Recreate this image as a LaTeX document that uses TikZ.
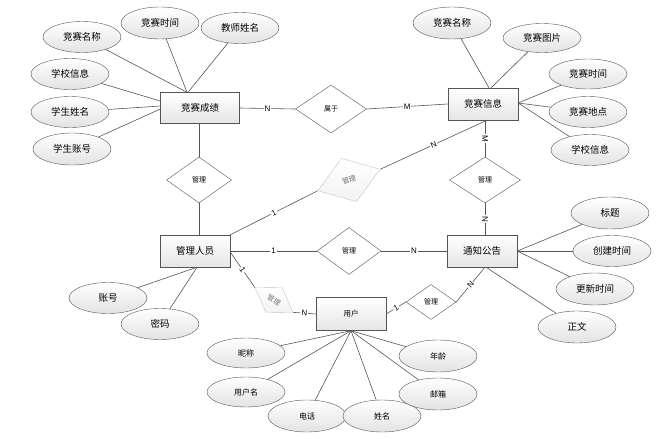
\documentclass[tikz,border=0pt]{standalone}
\usepackage{fontspec}
\newfontfamily\cjk{Noto Sans CJK SC}
\newfontfamily\lat{Liberation Sans}
\usepackage{tikz}
\usetikzlibrary{shapes.geometric,positioning}
\definecolor{edgegray}{HTML}{555555}

\tikzset{
  entity/.style={draw=edgegray,top color=white,bottom color=gray!20,minimum width=70pt,minimum height=32pt,inner sep=0pt,font=\cjk\fontsize{9.5}{10}\selectfont},
  attr/.style={ellipse,draw=edgegray,top color=white,bottom color=gray!22,minimum width=78pt,minimum height=31pt,inner sep=0pt,font=\cjk\fontsize{9.5}{10}\selectfont},
  uattr/.style={attr,font=\cjk\fontsize{8}{9}\selectfont},
  rel/.style={diamond,draw=edgegray,fill=white,inner sep=0pt,font=\cjk\fontsize{7}{8}\selectfont},
  faintrel/.style={diamond,draw=gray!45,top color=white,bottom color=gray!10,text=gray!90!black,inner sep=0pt,font=\cjk\fontsize{7}{8}\selectfont},
  card/.style={fill=white,inner sep=0.8pt,font=\lat\fontsize{8}{9}\selectfont},
  conn/.style={draw=edgegray,line width=0.6pt}
}

\begin{document}
\begin{tikzpicture}[x=1pt,y=-1pt]
\useasboundingbox (0,0) rectangle (670,439);
% entities
\node[entity,minimum width=79pt,minimum height=31pt] (cjcj) at (200,108) {竞赛成绩};
\node[entity] (jsxx) at (483,104) {竞赛信息};
\node[entity] (glry) at (195,251) {管理人员};
\node[entity] (tzgg) at (482,251) {通知公告};
\node[entity,minimum height=33pt,font=\cjk\fontsize{7.5}{8}\selectfont] (yh) at (351,314) {用户};
% relations
\node[rel,minimum width=71pt,minimum height=48pt] (sy) at (331,109) {属于};
\node[rel,minimum width=65pt,minimum height=46pt] (gl1) at (199,180) {管理};
\node[faintrel,minimum width=66pt,minimum height=46pt,rotate=19] (gl2) at (349,180) {管理};
\node[rel,minimum width=71pt,minimum height=46pt] (gl3) at (485,180) {管理};
\node[rel,minimum width=64pt,minimum height=47pt] (gl4) at (349,251) {管理};
\node[faintrel,minimum width=45pt,minimum height=30pt,rotate=-33] (gl5) at (274,300) {管理};
\node[rel,minimum width=50pt,minimum height=35pt] (gl6) at (431,302) {管理};
% attributes
\node[attr] (cjmc) at (82,37) {竞赛名称};
\node[attr,minimum height=32pt] (cjsj) at (160,23) {竞赛时间};
\node[attr] (jsxm) at (240,28) {教师姓名};
\node[attr] (cxxx) at (70,74) {学校信息};
\node[attr] (xsxm) at (70,112) {学生姓名};
\node[attr,minimum height=32pt] (xszh) at (72,149) {学生账号};
\node[attr,minimum height=32pt] (xxmc) at (452,23) {竞赛名称};
\node[attr,minimum height=29pt] (xxtp) at (542,38) {竞赛图片};
\node[attr,minimum height=30pt] (xxsj) at (588,74) {竞赛时间};
\node[attr] (xxdd) at (588,112) {竞赛地点};
\node[attr] (xxxx) at (590,150) {学校信息};
\node[attr] (zh) at (108,298) {账号};
\node[attr] (mm) at (160,324) {密码};
\node[attr,minimum height=32pt] (bt) at (610,213) {标题};
\node[attr] (cjt) at (612,251) {创建时间};
\node[attr,minimum height=32pt] (gxsj) at (595,289) {更新时间};
\node[attr,minimum height=32pt] (zw) at (577,327) {正文};
\node[uattr,minimum height=30pt] (nc) at (246,353) {昵称};
\node[uattr,minimum height=30pt] (yhm) at (246,392) {用户名};
\node[uattr,minimum height=32pt] (dh) at (307,416) {电话};
\node[uattr,minimum height=32pt] (xm) at (382,416) {姓名};
\node[uattr,minimum height=32pt] (nl) at (438,356) {年龄};
\node[uattr,minimum height=32pt] (yx) at (438,394) {邮箱};
% attribute lines
\draw[conn] (cjmc) -- ([xshift=-13pt]cjcj.north);
\draw[conn] (cjsj) -- ([xshift=-13pt]cjcj.north);
\draw[conn] (jsxm) -- ([xshift=-12pt]cjcj.north);
\draw[conn] (cxxx) -- ([yshift=7pt]cjcj.west);
\draw[conn] (xsxm) -- ([yshift=2pt]cjcj.west);
\draw[conn] (xszh) -- ([yshift=-1pt]cjcj.west);
\draw[conn] (xxmc) -- ([xshift=6pt]jsxx.north);
\draw[conn] (xxtp) -- ([xshift=8pt]jsxx.north);
\draw[conn] (xxsj) -- ([yshift=1pt]jsxx.east);
\draw[conn] (xxdd) -- ([yshift=1pt]jsxx.east);
\draw[conn] (xxxx) -- ([yshift=1pt]jsxx.east);
\draw[conn] (zh) -- ([xshift=2pt]glry.south);
\draw[conn] (mm) -- ([xshift=2pt]glry.south);
\draw[conn] (bt) -- (tzgg.east);
\draw[conn] (cjt) -- (tzgg.east);
\draw[conn] (gxsj) -- (tzgg.east);
\draw[conn] (zw) -- ([xshift=4pt]tzgg.south);
\draw[conn] (nc) -- (yh.south);
\draw[conn] (yhm) -- (yh.south);
\draw[conn] (dh) -- (yh.south);
\draw[conn] (xm) -- (yh.south);
\draw[conn] (nl) -- (yh.south);
\draw[conn] (yx) -- (yh.south);
% relation lines
\draw[conn] (cjcj.east) -- node[card]{N} (sy.west);
\draw[conn] (sy.east) -- node[card]{M} (jsxx.west);
\draw[conn] (cjcj.south -| gl1.north) -- (gl1.north);
\draw[conn] (gl1.south) -- (gl1.south |- glry.north);
\draw[conn] (glry.north east) -- node[card,sloped]{1} (gl2.west);
\draw[conn] (gl2.east) -- node[card,sloped]{N} ([xshift=4pt]jsxx.south);
\draw[conn] (gl3.north |- jsxx.south) -- node[card,sloped]{M} (gl3.north);
\draw[conn] (gl3.south) -- node[card,sloped]{N} (gl3.south |- tzgg.north);
\draw[conn] (glry.east) -- node[card]{1} (gl4.west);
\draw[conn] (gl4.east) -- node[card]{N} (tzgg.west);
\draw[conn] ([yshift=-1pt]glry.east) -- node[card,sloped]{1} (gl5.west);
\draw[conn] (gl5.east) -- node[card,sloped]{N} (yh.west);
\draw[conn] (yh.east) -- node[card,sloped]{1} (gl6.west);
\draw[conn] (gl6.east) -- node[card,sloped]{N} ([xshift=3pt]tzgg.south);
\end{tikzpicture}
\end{document}
